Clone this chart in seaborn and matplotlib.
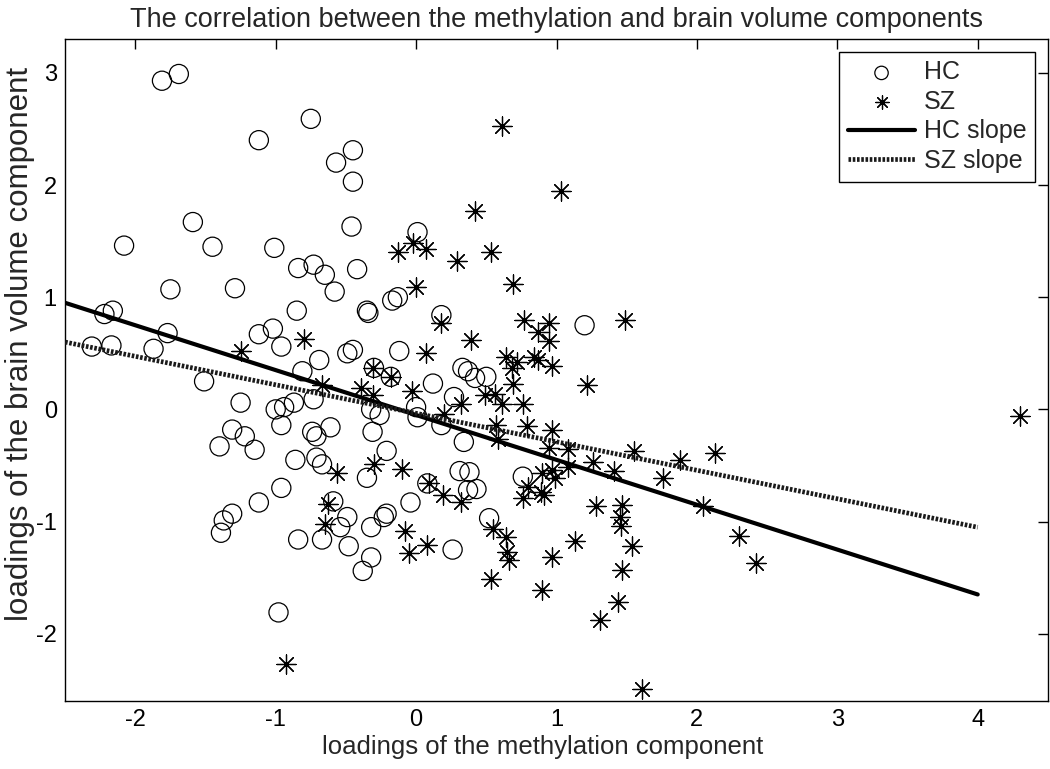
import numpy as np
import pandas as pd
import matplotlib
matplotlib.use("Agg")
import matplotlib.pyplot as plt
import seaborn as sns

# ---------------- data ----------------
hc_x = [-1.81, -1.69, -0.75, -1.12, -0.45, -0.57, -0.45, -1.59, -2.08, -1.45,
        -1.01, -0.46, -0.84, -0.73, -0.65, -0.42, -0.58, -1.75, -1.29, -0.85,
        -0.35, -0.34, -0.17, -0.13, -2.22, -2.16, -1.77, -1.12, -1.02, -2.31,
        -2.17, -1.87, -0.96, -0.69, -0.49, -0.45, -0.12, -0.81, -0.30, -0.18,
        -1.51, -1.25, -1.00, -0.94, -0.87, -0.73, -0.96, -1.31, -1.22, -1.40,
        -1.15, -0.74, -0.71, -0.61, -0.86, -0.71, -0.67, -0.31, -0.32, -0.26,
        -0.21, -0.35, -0.96, -1.12, -1.31, -1.37, -1.39, -0.84, -0.67, -0.59,
        -0.54, -0.49, -0.48, -0.32, -0.23, -0.21, -0.32, -0.38, -0.98, 0.01,
        0.18, 1.20, 0.33, 0.37, 0.42, 0.50, 0.12, 0.27, 0.00, 0.01,
        0.18, 0.34, 0.31, 0.38, 0.08, 0.37, 0.43, -0.04, 0.52, 0.26,
        0.76]
hc_y = [2.93, 2.99, 2.59, 2.40, 2.31, 2.20, 2.03, 1.67, 1.46, 1.45,
        1.44, 1.63, 1.26, 1.29, 1.20, 1.25, 1.05, 1.07, 1.08, 0.88,
        0.88, 0.86, 0.97, 1.00, 0.85, 0.88, 0.68, 0.67, 0.72, 0.56,
        0.57, 0.54, 0.56, 0.44, 0.50, 0.53, 0.52, 0.34, 0.37, 0.29,
        0.25, 0.06, 0.00, 0.02, 0.06, 0.09, -0.14, -0.18, -0.24, -0.33,
        -0.36, -0.20, -0.24, -0.16, -0.45, -0.43, -0.49, -0.20, 0.00, -0.05,
        -0.37, -0.61, -0.70, -0.83, -0.93, -0.99, -1.10, -1.16, -1.16, -0.82,
        -1.05, -0.96, -1.22, -1.05, -0.96, -0.93, -1.32, -1.44, -1.81, 1.58,
        0.84, 0.75, 0.37, 0.34, 0.28, 0.29, 0.23, 0.11, 0.02, -0.07,
        -0.14, -0.29, -0.55, -0.56, -0.66, -0.72, -0.71, -0.83, -0.97, -1.25,
        -0.60]

sz_x = [-0.13, -1.25, -0.80, -0.31, -0.18, -0.67, -0.39, -0.31, 0.61, 1.03,
        0.42, -0.02, 0.07, 0.29, 0.53, 0.00, 0.69, 0.18, 0.39, 0.77,
        0.95, 0.87, 0.95, 1.49, 0.07, 0.64, 0.72, 0.68, 0.84, 0.87,
        0.97, 0.69, 1.22, -0.03, 0.32, 0.49, 0.56, 0.61, 0.76, 0.20,
        0.57, 0.58, 0.79, 0.97, 0.95, 1.08, 1.08, 1.26, 1.41, 1.55,
        1.88, 2.13, 1.76, 2.04, -0.10, 0.19, 0.32, 0.09, 0.76, 0.80,
        0.90, 0.97, 0.99, 0.89, 0.91, 1.28, 1.47, 1.45, 1.46, 1.54,
        1.47, 1.44, 1.31, 1.13, 0.97, 0.90, 0.53, 0.55, 0.64, 0.65,
        0.66, -0.08, 0.08, -0.05, 1.61, -0.56, -0.30, -0.63, -0.65, -0.93,
        2.30, 2.42, 4.30]
sz_y = [1.40, 0.52, 0.63, 0.37, 0.29, 0.22, 0.19, 0.13, 2.53, 1.95,
        1.77, 1.48, 1.43, 1.32, 1.40, 1.09, 1.12, 0.77, 0.62, 0.80,
        0.77, 0.69, 0.61, 0.80, 0.50, 0.47, 0.42, 0.37, 0.47, 0.44,
        0.39, 0.23, 0.22, 0.16, 0.05, 0.13, 0.14, 0.05, 0.05, -0.04,
        -0.14, -0.26, -0.15, -0.18, -0.34, -0.35, -0.51, -0.47, -0.55, -0.37,
        -0.45, -0.39, -0.61, -0.86, -0.53, -0.76, -0.83, -0.66, -0.79, -0.69,
        -0.57, -0.54, -0.61, -0.74, -0.76, -0.86, -0.85, -0.96, -1.04, -1.22,
        -1.43, -1.72, -1.88, -1.17, -1.32, -1.61, -1.51, -1.07, -1.14, -1.27,
        -1.34, -1.08, -1.21, -1.28, -2.49, -0.57, -0.49, -0.84, -1.02, -2.27,
        -1.13, -1.37, -0.06]

# fitted slopes (slope, intercept) and the x range over which they are drawn
slope_names = ["HC slope", "SZ slope"]
slope_values = [-0.40, -0.254]
intercept_values = [-0.05, -0.035]
line_x_range = [-2.5, 4.0]

title = "The correlation between the methylation and brain volume components"
xlabel = "loadings of the methylation component"
ylabel = "loadings of the brain volume component"
xticks = [-2, -1, 0, 1, 2, 3, 4]
yticks = [-2, -1, 0, 1, 2, 3]

# ---------------- style ----------------
sns.set_theme(style="white")
plt.rcParams["font.family"] = ["Liberation Sans", "DejaVu Sans"]

fig = plt.figure(figsize=(10.5, 7.69), dpi=100)
ax = fig.add_axes([0.062, 0.0884, 0.936, 0.8606])

hc_df = pd.DataFrame({"x": hc_x, "y": hc_y})
sz_df = pd.DataFrame({"x": sz_x, "y": sz_y})

sns.scatterplot(data=hc_df, x="x", y="y", ax=ax, marker="o", s=190,
                facecolor="none", edgecolor="black", linewidth=0.9,
                label="HC", zorder=3)
sns.scatterplot(data=sz_df, x="x", y="y", ax=ax, marker=(8, 2, 0), s=190,
                color="black", edgecolor="black", linewidth=0.9,
                label="SZ", zorder=3)

lx = np.array(line_x_range)
styles = [dict(linestyle="-", linewidth=3.0, color="black"),
          dict(linestyle=(0, (0.55, 0.35)), linewidth=3.4, color="#1a1a1a")]
for name, m, b, st in zip(slope_names, slope_values, intercept_values, styles):
    ldf = pd.DataFrame({"x": lx, "y": b + m * lx})
    sns.lineplot(data=ldf, x="x", y="y", ax=ax, label=name, zorder=4, **st)

ax.set_xlim(-2.5, 4.5)
ax.set_ylim(-2.6, 3.3)
ax.set_xticks(xticks)
ax.set_yticks(yticks)
ax.set_xticklabels([str(t) for t in xticks])
ax.set_yticklabels([str(t) for t in yticks])
ax.tick_params(direction="in", length=7, width=1, top=True, right=True,
               labelsize=17, colors="black", pad=6)
for sp in ax.spines.values():
    sp.set_visible(True)
    sp.set_color("black")
    sp.set_linewidth(1.0)

ax.set_title(title, fontsize=19.5, pad=9)
ax.set_xlabel(xlabel, fontsize=18.5)
ax.set_ylabel(ylabel, fontsize=22.5)
ax.xaxis.set_label_coords(0.486, -0.052)
ax.yaxis.set_label_coords(-0.031, 0.54)

leg = ax.legend(loc="upper right", fontsize=18, frameon=True, fancybox=False,
                edgecolor="black", framealpha=1, handlelength=2.7,
                borderpad=0.35, labelspacing=0.22, handletextpad=0.35,
                markerscale=0.7, borderaxespad=0.5)
leg.get_frame().set_linewidth(1.0)

fig.savefig("out.png", dpi=100, facecolor="white")
